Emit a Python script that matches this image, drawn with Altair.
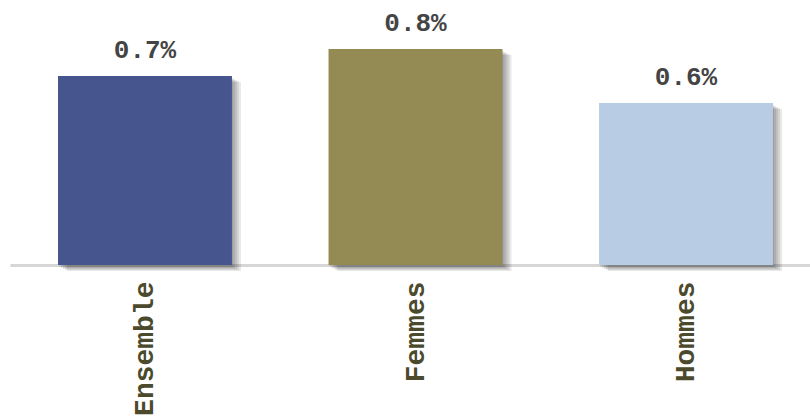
import altair as alt
import pandas as pd

categories = ["Ensemble", "Femmes", "Hommes"]
values = [0.7, 0.8, 0.6]
colors = ["#46558e", "#948a53", "#b8cce4"]

df = pd.DataFrame({"cat": categories, "val": values})
df["label"] = df["val"].map(lambda v: f"{v:.1f}%")

mono = "Courier New, Liberation Mono, monospace"

x_enc = alt.X("cat:N", sort=categories,
              scale=alt.Scale(paddingInner=0.357, paddingOuter=0.1775,
                              range=[0, 811]),
              axis=alt.Axis(title=None, labelAngle=-90, ticks=False,
                            labelFont=mono, labelFontWeight="bold",
                            labelFontSize=28, labelColor="#4b4a2d",
                            labelPadding=16, domainColor="#d6d6d6",
                            domainWidth=3, grid=False))
y_enc = alt.Y("val:Q", scale=alt.Scale(domain=[0, 0.8], nice=False),
              axis=None)

base = alt.Chart(df).encode(x=x_enc, y=y_enc)

# soft drop shadow built from a few offset translucent bars
shadows = [
    base.mark_bar(color="#000000", opacity=0.09, xOffset=dx, yOffset=dy)
    for dx, dy in [(1, 2), (3, 3), (5, 4), (7, 5), (9, 6)]
]

bars = base.mark_bar().encode(
    color=alt.Color("cat:N", scale=alt.Scale(domain=categories, range=colors),
                    legend=None)
)

labels = base.mark_text(
    baseline="bottom", dy=-13, font=mono, fontWeight="bold",
    fontSize=26, color="#444444"
).encode(text="label:N")

chart = alt.layer(*shadows, bars, labels).properties(
    width=800, height=216,
    background="white",
    autosize=alt.AutoSizeParams(type="none"),
    padding={"left": 10, "top": 49, "right": 0, "bottom": 155},
).configure_view(strokeWidth=0, stroke="transparent")

chart.save("out.html", embed_options={"renderer": "svg", "actions": False})
